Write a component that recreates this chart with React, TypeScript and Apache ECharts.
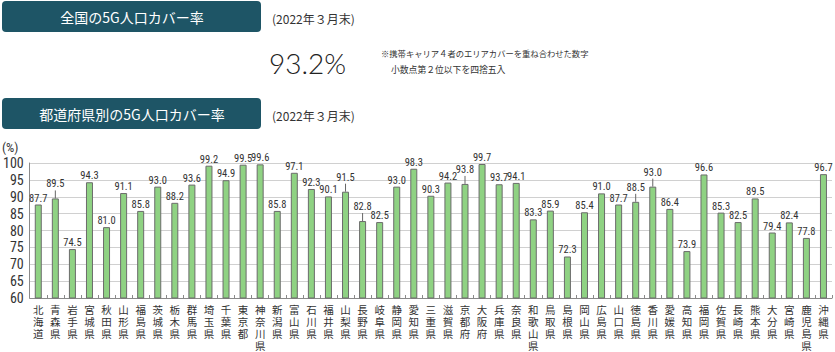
import React, { useEffect, useRef } from "react";
import * as echarts from "echarts";

const prefectures = [
  "北海道", "青森県", "岩手県", "宮城県", "秋田県", "山形県", "福島県", "茨城県", "栃木県", "群馬県",
  "埼玉県", "千葉県", "東京都", "神奈川県", "新潟県", "富山県", "石川県", "福井県", "山梨県", "長野県",
  "岐阜県", "静岡県", "愛知県", "三重県", "滋賀県", "京都府", "大阪府", "兵庫県", "奈良県", "和歌山県",
  "鳥取県", "島根県", "岡山県", "広島県", "山口県", "徳島県", "香川県", "愛媛県", "高知県", "福岡県",
  "佐賀県", "長崎県", "熊本県", "大分県", "宮崎県", "鹿児島県", "沖縄県",
];

const coverage = [
  87.7, 89.5, 74.5, 94.3, 81.0, 91.1, 85.8, 93.0, 88.2, 93.6,
  99.2, 94.9, 99.5, 99.6, 85.8, 97.1, 92.3, 90.1, 91.5, 82.8,
  82.5, 93.0, 98.3, 90.3, 94.2, 93.8, 99.7, 93.7, 94.1, 83.3,
  85.9, 72.3, 85.4, 91.0, 87.7, 88.5, 93.0, 86.4, 73.9, 96.6,
  85.3, 82.5, 89.5, 79.4, 82.4, 77.8, 96.7,
];

// prefectures whose value label is raised with a leader line
const leaderLabels = ["青森県", "山梨県", "長野県", "京都府", "徳島県", "香川県"];

const yTicks = { min: 60, max: 100, interval: 5 };

const nationalRate = "93.2%";
const asOf = "(2022年３月末)";
const titleNational = "全国の5G人口カバー率";
const titlePref = "都道府県別の5G人口カバー率";
const note1 = "※携帯キャリア４者のエリアカバーを重ね合わせた数字";
const note2 = "小数点第２位以下を四捨五入";

const NARROW = "'Liberation Sans Narrow', 'Roboto Condensed', 'Liberation Sans', sans-serif";
const JP = "'Noto Sans CJK JP', 'Noto Sans', sans-serif";

export default function App() {
  const ref = useRef<HTMLDivElement>(null);
  useEffect(() => {
    if (!ref.current) return;
    const chart = echarts.init(ref.current, undefined, { renderer: "svg" });
    const LEADER = 8;
    const LINE = 12;
    const barData = coverage.map((v, i) => {
      const lead = leaderLabels.includes(prefectures[i]);
      return {
        value: v,
        label: { distance: lead ? 1 + LEADER : 1 },
      };
    });
    const leaderData = coverage
      .map((v, i) => [i, v])
      .filter((d) => leaderLabels.includes(prefectures[d[0] as number]));

    const maxChars = Math.max(...prefectures.map((p) => p.length));
    // vertical category labels: one stacked axis per character row
    const xAxes = Array.from({ length: maxChars }, (_, k) => ({
      type: "category",
      data: prefectures,
      position: "bottom",
      axisLine: { show: k === 0, lineStyle: { color: "#8a8a8a", width: 1 } },
      axisTick: {
        show: k === 0,
        inside: true,
        length: 3,
        alignWithLabel: false,
        lineStyle: { color: "#8a8a8a" },
      },
      axisLabel: {
        interval: 0,
        margin: 6 + k * LINE,
        fontSize: 10.5,
        color: "#333",
        fontFamily: JP,
        verticalAlign: "top",
        formatter: (v: string) => v.charAt(k) || "",
      },
    }));

    const header = (y: number, text: string) => [
      {
        type: "rect",
        shape: { x: 2, y, width: 259, height: 31, r: 4 },
        style: { fill: "#1e5566" },
        silent: true,
      },
      {
        type: "text",
        x: 132,
        y: y + 15.5,
        style: {
          text,
          fill: "#ffffff",
          font: `14px ${JP}`,
          align: "center",
          verticalAlign: "middle",
        },
      },
      {
        type: "text",
        x: 272,
        y: y + 17,
        style: {
          text: asOf,
          fill: "#333",
          font: `12px ${JP}`,
          align: "left",
          verticalAlign: "middle",
        },
      },
    ];

    chart.setOption({
      animation: false,
      backgroundColor: "#ffffff",
      graphic: [
        ...header(1, titleNational),
        ...header(98, titlePref),
        {
          type: "text",
          x: 269,
          y: 63,
          style: {
            text: nationalRate,
            fill: "#222",
            font: `300 28px Lato, 'Open Sans', sans-serif`,
            align: "left",
            verticalAlign: "middle",
          },
        },
        {
          type: "text",
          x: 381,
          y: 53,
          style: { text: note1, fill: "#333", font: `8.3px ${JP}`, align: "left", verticalAlign: "middle" },
        },
        {
          type: "text",
          x: 391,
          y: 69,
          style: { text: note2, fill: "#333", font: `8.8px ${JP}`, align: "left", verticalAlign: "middle" },
        },
        {
          type: "text",
          x: 2,
          y: 147,
          style: { text: "(%)", fill: "#333", font: `13px ${NARROW}`, align: "left", verticalAlign: "middle" },
        },
      ],
      grid: { left: 29, right: 3, top: 163, bottom: 54, containLabel: false },
      xAxis: xAxes,
      yAxis: {
        type: "value",
        min: yTicks.min,
        max: yTicks.max,
        interval: yTicks.interval,
        axisLine: { show: true, lineStyle: { color: "#8a8a8a" } },
        axisTick: { show: false },
        splitLine: { lineStyle: { color: "#d0d0d0", width: 1 } },
        axisLabel: { fontSize: 14, color: "#333", fontFamily: NARROW, margin: 6 },
      },
      series: [
        {
          type: "bar",
          xAxisIndex: 0,
          data: barData,
          barWidth: 7,
          itemStyle: { color: "#8fd283", borderColor: "#6b6b6b", borderWidth: 1 },
          label: {
            show: true,
            position: "top",
            fontSize: 10.5,
            color: "#333",
            fontFamily: NARROW,
            formatter: (p: any) => Number(p.value).toFixed(1),
          },
          z: 2,
        },
        {
          type: "custom",
          xAxisIndex: 0,
          data: leaderData,
          z: 3,
          renderItem: (params: any, api: any) => {
            const pt = api.coord([api.value(0), api.value(1)]);
            return {
              type: "line",
              shape: { x1: pt[0], y1: pt[1], x2: pt[0], y2: pt[1] - LEADER },
              style: { stroke: "#666", lineWidth: 1 },
            };
          },
        },
      ],
    });
    return () => chart.dispose();
  }, []);
  return (
    <div
      ref={ref}
      style={{ position: "fixed", left: 0, top: 0, width: 835, height: 352, background: "#fff" }}
    />
  );
}
